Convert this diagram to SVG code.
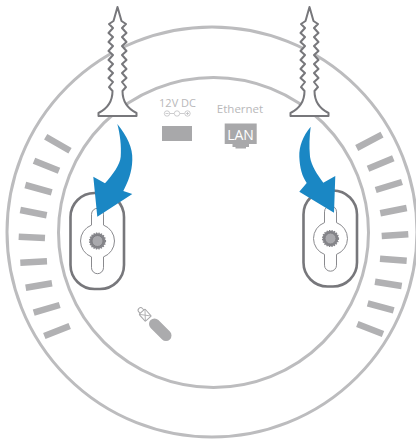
<svg xmlns="http://www.w3.org/2000/svg" width="416" height="440" viewBox="0 0 416 440">
<style>
.ring{fill:none;stroke:#bcbcbe;stroke-width:3}
.bar{stroke:#b1b1b3;stroke-width:6.5;fill:none}
.screw{fill:#fff;stroke:#77777b;stroke-width:2;stroke-linejoin:round}
.plate{fill:#fff;stroke:#77777b;stroke-width:2.6}
.key{fill:#fff;stroke:#8a8a8e;stroke-width:1}
.arrow{fill:#1a87c4}
.lab{font-family:"Open Sans","Liberation Sans",sans-serif;fill:#b8b8ba;text-anchor:middle}
.sym{fill:none;stroke:#b8b8ba;stroke-width:.7}
</style>
<defs>
<path id="screwshape" class="screw" d="M0 7L-4 21L-8.5 24L-4.5 28L-9 33L-4.5 37L-9 42L-4.5 46L-9 51L-4.5 55L-9 60L-4.5 64L-9 69L-4.5 73L-9 78L-4.5 82L-8.5 87L-5 91C-5 102 -11 109 -19 113V116H19V113C11 109 5 102 5 91L8.5 87L4.5 82L9 78L4.5 73L9 69L4.5 64L9 60L4.5 55L9 51L4.5 46L9 42L4.5 37L9 33L4.5 28L8.5 24L4 21Z"/>
<g id="mount">
<rect class="plate" x="-27" y="-48" width="53.500" height="96" rx="24" ry="24"/>
<path class="key" d="M-6 -15.900V-26.700A6 6 0 0 1 6 -26.700V-15.900A17 17 0 0 1 6 15.900V26.700A6 6 0 0 1 -6 26.700V15.900A17 17 0 0 1 -6 -15.900Z"/>
<circle r="7.800" fill="#85858a" stroke="#85858a" stroke-width="1.600" stroke-dasharray="1.300 1.200"/>
<circle r="5.500" fill="#a9a9ad" stroke="#77777b" stroke-width=".8"/>
</g>
</defs>
<g id="housing">
<circle class="ring" cx="212" cy="232" r="205"/>
<circle class="ring" cx="213.500" cy="232.500" r="155"/>
</g>
<g id="vents">
<path class="bar" d="M45.700 136.700L70 150.700M34 160.700L59 170.700M25.300 185L51.700 192.300M20.300 210L46.700 215.300M18.700 236.700L45 238M20.300 262.700L47 261.300M25.700 287.700L52 283.300M33.700 312.700L59.700 305M44.300 336L69.700 326"/>
<path class="bar" d="M356.700 148L382 134.700M368 168.700L393.300 158.300M375.700 190L402 182M380.300 213.300L406.700 208M381.700 236L408.300 234.300M380 258.700L406.700 260.700M375 281.700L401.700 286M367.700 303.300L393.700 310.300M357.300 324L383 334"/>
</g>
<g id="screw-left"><use href="#screwshape" transform="translate(117.500 0)"/></g>
<g id="screw-right"><use href="#screwshape" transform="translate(309.500 0)"/></g>
<g id="power-port">
<text class="lab" x="177.500" y="107" font-size="11">12V DC</text>
<g class="sym">
<circle cx="167" cy="113.500" r="2.700"/><path d="M165.500 113.500H168.500M169.700 113.500H174"/>
<circle cx="177" cy="113.500" r="2.700"/><path d="M180 113.500H184.500"/>
<circle cx="187.500" cy="113.500" r="2.700"/><path d="M186 113.500H189M187.500 112V115"/>
</g>
<rect x="162" y="126" width="30" height="15" fill="#a8a8aa"/>
</g>
<g id="lan-port">
<text class="lab" x="240" y="113" font-size="11.500">Ethernet</text>
<path d="M224.700 123.500H256.700V144H249V147H246V148.500H235.500V147H232.500V144H224.700Z" fill="#a8a8aa"/>
<text x="240.500" y="140" font-size="14" font-family="'Open Sans','Liberation Sans',sans-serif" fill="#fff" text-anchor="middle">LAN</text>
</g>
<g id="mount-left"><use href="#mount" transform="translate(97.500 241)"/></g>
<g id="mount-right"><use href="#mount" transform="translate(330.500 238.500)"/></g>
<g id="tool">
<path d="M154.500 324L166 335.500" stroke="#ababad" stroke-width="11" stroke-linecap="round" fill="none"/>
<g transform="translate(145 315) rotate(-42)">
<rect x="-4" y="-4.500" width="8" height="9.500" rx="1" fill="#fff" stroke="#a8a8aa" stroke-width="1"/>
<path d="M-4 -4.500L4 5M4 -4.500L-4 5" stroke="#a8a8aa" stroke-width=".8"/>
<path d="M-2.500 -4.500V-6.500A2.500 2.500 0 0 1 2.500 -6.500V-4.500" fill="none" stroke="#a8a8aa" stroke-width="1"/>
</g>
</g>
<g id="connectors">
<path class="arrow" d="M117.300 124C127 136 133 148 132.300 160C132 172 128 182 123.300 191L132.300 194L97.300 216.700L93.300 176.700L105 183.300C113 174 120 165 120.700 156.700C121.500 146 120 134 117.300 124Z"/>
<path class="arrow" d="M310.700 126.700C303 136 299 146 299.300 156.700C299.800 168 302 176 306.700 183L299.300 191.700L334 212.700L335.300 176L323.300 182.700C317 174 311.500 166 310 156.700C309 146 309.500 136 310.700 126.700Z"/>
</g>
</svg>
